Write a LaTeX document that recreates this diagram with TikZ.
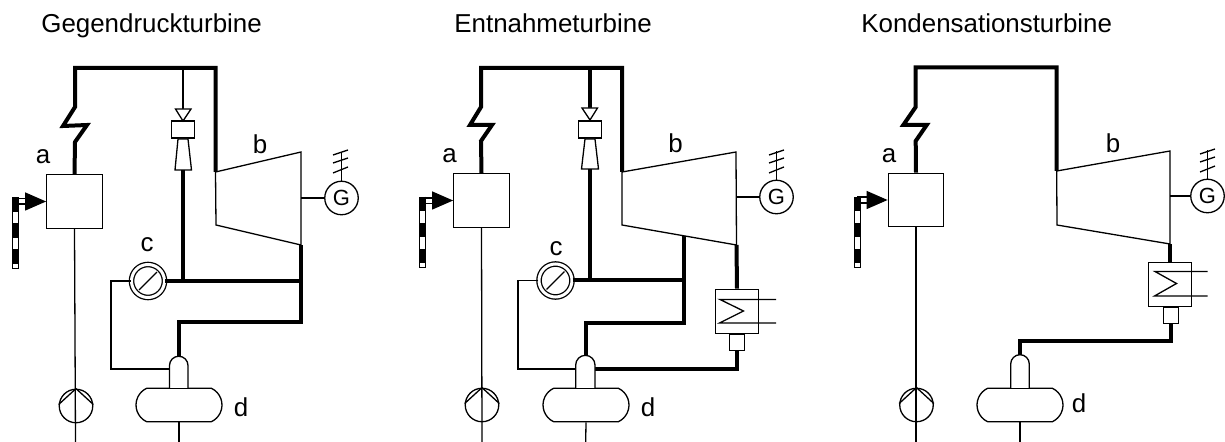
\documentclass[tikz,border=0pt]{standalone}
\usepackage{fontspec}
\setmainfont{Liberation Sans}
\usepackage{tikz}
\usetikzlibrary{arrows.meta}
\usetikzlibrary{shapes.misc}

\tikzset{
  steam/.style={line width=.08cm, line join=miter},
  pipe/.style={line width=.026cm},
  part/.style={draw, line width=.026cm, fill=white, inner sep=0},
  boiler/.style={part, rectangle, minimum width=1.11cm, minimum height=1.07cm},
  gen/.style={part, circle, minimum size=.67cm, font=\fontsize{12.5}{12.5}\selectfont},
  pump/.style={part, circle, minimum size=.67cm},
  cooler/.style={part, circle, double, double distance=.06cm, minimum size=.66cm},
  tank/.style={part, rounded rectangle, rounded rectangle arc length=130, minimum width=1.72cm, minimum height=.67cm},
  cond/.style={part, rectangle, minimum width=.85cm, minimum height=.89cm},
  stub/.style={part, rectangle, minimum width=.29cm, minimum height=.33cm},
  valve/.style={part, rectangle, minimum width=.46cm, minimum height=.34cm},
  fuel/.style={part, rectangle, minimum width=.13cm, minimum height=1.41cm},
  stripe/.style={line width=.125cm, dash pattern=on .29cm off .23cm},
  burner/.style={->,>={Triangle[length=.42cm,width=.36cm]}, line width=.026cm},
  title/.style={anchor=base west, inner sep=0, font=\fontsize{14.75}{16}\selectfont},
  lbl/.style={anchor=base, inner sep=0, font=\fontsize{14.75}{16}\selectfont},
}

\begin{document}
\begin{tikzpicture}[x=.02cm, y=-.02cm]
    \useasboundingbox (0,0) rectangle (1225,442);

    % Gegendruck
    \node[title] (t1) at (41,33) {Gegendruckturbine};
    \node[boiler] (a1) at (74.5,201.5) {};
    \node[fuel] (f1) at (15.5,233) {};
    \node[gen] (g1) at (341.5,198) {G};
    \node[cooler] (c1) at (148,281) {};
    \node[pump] (p1) at (76,406) {};
    \node[tank] (d1) at (179,405) {};
    \node[valve] (v1) at (183,129.5) {};
    \node[lbl] (la1) at (43,164) {a};
    \node[lbl] (lb1) at (260,153.5) {b};
    \node[lbl] (lc1) at (147,251.5) {c};
    \node[lbl] (ld1) at (241,416.5) {d};
    \coordinate (k1) at (26,201.5);
    \coordinate (tl1) at (215.5,172);
    \coordinate (tr1) at (301,152);
    \coordinate (br1) at (301,245);
    \coordinate (bl1) at (216,225);
    \coordinate (j1) at (183,281);
    \coordinate (n1) at (183,170);
    \coordinate (e1) at (179,356);
    \coordinate (w1) at (169.5,369);
    \coordinate (s1) at (183,68);
    \coordinate (pe1) at (75.5,442);
    \coordinate (de1) at (179,442);
    \draw[pipe] (tl1) -- (tr1) -- (br1) -- (bl1) -- cycle;
    \draw[steam] (a1.north) -- (75,142) -- (87,125) -- (63,126) -- (75,107) -- (75,68) -- (215.5,68) -- (tl1);
    \draw[pipe] (s1) -- (183,109);
    \draw[part] (175.5,109) -- (191,109) -- (183,121) -- cycle;
    \draw[part] (178,139) -- (188,139) -- (191.5,170) -- (175,170) -- cycle;
    \draw[steam] (n1) -- (j1);
    \draw[steam] (c1.east) -- (301,281);
    \draw[steam] (br1) -- (301,322) -- (179,322) -- (e1);
    \draw[pipe] (c1.west) -- (111,281) -- (111,369) -- (w1);
    \draw[part] (169.5,388) -- (169.5,365.5) arc[start angle=180, end angle=0, radius=.185cm] -- (188,388);
    \draw[pipe] (d1.south) -- (de1);
    \draw[pipe] (a1.south) -- (pe1);
    \draw[pipe] (p1.north) -- (p1.175);
    \draw[pipe] (p1.north) -- (p1.5);
    \draw[pipe] (br1 |- g1) -- (g1.west);
    \draw[pipe] (g1.north) -- (341.5,152);
    \draw[pipe] (333,155) -- (348,150);
    \draw[pipe] (333,163) -- (348,158);
    \draw[pipe] (333,173) -- (348,167);
    \draw[pipe, shorten >=.09cm, shorten <=.09cm] (c1.-135) -- (c1.45);
    \draw[stripe] (f1.north) -- (f1.south);
    \draw[pipe] (15,198.5) -- (26,198.5);
    \draw[pipe] (18,204) -- (26,204);
    \draw[burner] (k1) -- (a1.west);

    % Entnahme
    \node[title] (t2) at (454,33) {Entnahmeturbine};
    \node[boiler] (a2) at (481.5,200.5) {};
    \node[fuel] (f2) at (422.5,232.5) {};
    \node[gen] (g2) at (776.5,197) {G};
    \node[cooler] (c2) at (555.5,280.5) {};
    \node[pump] (p2) at (482,405) {};
    \node[tank] (d2) at (586,405) {};
    \node[valve] (v2) at (590,129.5) {};
    \node[cond] (h2) at (737,311.5) {};
    \node[stub] (u2) at (737,342.5) {};
    \node[lbl] (la2) at (449.5,163) {a};
    \node[lbl] (lb2) at (675.5,153) {b};
    \node[lbl] (lc2) at (556,255.5) {c};
    \node[lbl] (ld2) at (648,416.5) {d};
    \coordinate (k2) at (433,200.5);
    \coordinate (tl2) at (622,172);
    \coordinate (tr2) at (736,152);
    \coordinate (br2) at (736.5,245);
    \coordinate (bl2) at (622,225);
    \coordinate (x2) at (684,236);
    \coordinate (j2) at (590,280.5);
    \coordinate (n2) at (590,169);
    \coordinate (e2) at (585.7,356);
    \coordinate (w2) at (575.7,369);
    \coordinate (q2) at (595,369);
    \coordinate (s2) at (590,68);
    \coordinate (pe2) at (482,442);
    \coordinate (de2) at (585.7,442);
    \coordinate (hi2) at (776,299.5);
    \coordinate (ho2) at (776,323);
    \draw[pipe] (tl2) -- (tr2) -- (br2) -- (bl2) -- cycle;
    \draw[steam] (a2.north) -- (481,141) -- (492,125) -- (470,125) -- (481,107) -- (481,68) -- (622,68) -- (tl2);
    \draw[steam] (s2) -- (590,108);
    \draw[part] (582,108) -- (597.5,108) -- (590,120) -- cycle;
    \draw[part] (585,139) -- (595,139) -- (598.5,169) -- (581.5,169) -- cycle;
    \draw[steam, line width=.065cm] (n2) -- (j2);
    \draw[steam] (c2.east) -- (684,280.5);
    \draw[steam] (x2) -- (684,323) -- (585.7,323) -- (e2);
    \draw[steam] (br2) -- (h2.north);
    \draw[steam] (u2.south) -- (737,369) -- (q2);
    \draw[pipe] (c2.west) -- (518,280.5) -- (518,369) -- (w2);
    \draw[part] (575.7,388) -- (575.7,365) arc[start angle=180, end angle=0, radius=.193cm] -- (595,388);
    \draw[pipe] (d2.south) -- (de2);
    \draw[pipe] (a2.south) -- (pe2);
    \draw[pipe] (p2.north) -- (p2.175);
    \draw[pipe] (p2.north) -- (p2.5);
    \draw[pipe] (hi2) -- (720,299.5) -- (743.5,311) -- (719.5,323) -- (ho2);
    \draw[pipe] (br2 |- g2) -- (g2.west);
    \draw[pipe] (g2.north) -- (776.5,151);
    \draw[pipe] (769,155) -- (784,150);
    \draw[pipe] (769,163) -- (784,158);
    \draw[pipe] (769,173) -- (784,167);
    \draw[pipe, shorten >=.09cm, shorten <=.09cm] (c2.-135) -- (c2.45);
    \draw[stripe] (f2.north) -- (f2.south);
    \draw[pipe] (422,198) -- (433,198);
    \draw[pipe] (425,203.5) -- (433,203.5);
    \draw[burner] (k2) -- (a2.west);

    % Kondensation
    \node[title] (t3) at (861,33) {Kondensationsturbine};
    \node[boiler] (a3) at (916,200) {};
    \node[fuel] (f3) at (857.5,232.5) {};
    \node[gen] (g3) at (1207.5,196) {G};
    \node[pump] (p3) at (916.5,405) {};
    \node[tank] (d3) at (1020,405) {};
    \node[cond] (h3) at (1170,284.5) {};
    \node[stub] (u3) at (1171,315.5) {};
    \node[lbl] (la3) at (889,163) {a};
    \node[lbl] (lb3) at (1113,153) {b};
    \node[lbl] (ld3) at (1079,413) {d};
    \coordinate (k3) at (868,200);
    \coordinate (tl3) at (1056.7,171);
    \coordinate (tr3) at (1170,151);
    \coordinate (br3) at (1170,244);
    \coordinate (bl3) at (1057,225);
    \coordinate (e3) at (1020,356);
    \coordinate (pe3) at (916,442);
    \coordinate (de3) at (1020,442);
    \coordinate (hi3) at (1207.5,271.5);
    \coordinate (ho3) at (1207.5,296);
    \draw[pipe] (tl3) -- (tr3) -- (br3) -- (bl3) -- cycle;
    \draw[steam] (a3.north) -- (915.7,141) -- (926.7,125) -- (903.3,125) -- (915.7,107) -- (915.7,67.5) -- (1056.7,67.5) -- (tl3);
    \draw[steam] (br3) -- (h3.north);
    \draw[steam] (u3.south) -- (1171,341) -- (1020,341) -- (e3);
    \draw[part] (1010.7,388) -- (1010.7,364) arc[start angle=180, end angle=0, radius=.186cm] -- (1029.3,388);
    \draw[pipe] (d3.south) -- (de3);
    \draw[pipe] (a3.south) -- (pe3);
    \draw[pipe] (p3.north) -- (p3.175);
    \draw[pipe] (p3.north) -- (p3.5);
    \draw[pipe] (hi3) -- (1155,271.5) -- (1176.5,283.5) -- (1154.5,296) -- (ho3);
    \draw[pipe] (br3 |- g3) -- (g3.west);
    \draw[pipe] (g3.north) -- (1207.5,150);
    \draw[pipe] (1200,154) -- (1215,149);
    \draw[pipe] (1200,162) -- (1215,157);
    \draw[pipe] (1200,172) -- (1215,166);
    \draw[stripe] (f3.north) -- (f3.south);
    \draw[pipe] (857,197) -- (868,197);
    \draw[pipe] (860,203) -- (868,203);
    \draw[burner] (k3) -- (a3.west);
\end{tikzpicture}
\end{document}
